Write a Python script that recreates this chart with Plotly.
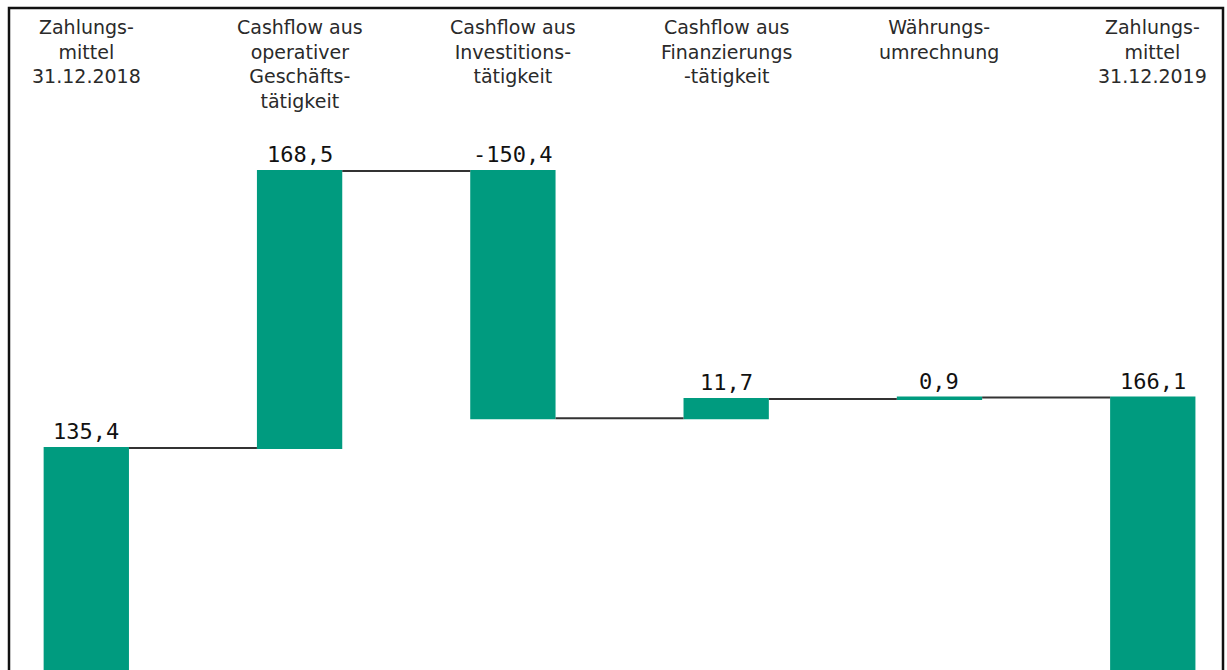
import numpy as np
import plotly.graph_objects as go

# ---- data ----
categories = [
    "Zahlungs-<br>mittel<br>31.12.2018",
    "Cashflow aus<br>operativer<br>Geschäfts-<br>tätigkeit",
    "Cashflow aus<br>Investitions-<br>tätigkeit",
    "Cashflow aus<br>Finanzierungs<br>-tätigkeit",
    "Währungs-<br>umrechnung",
    "Zahlungs-<br>mittel<br>31.12.2019",
]
values = [135.4, 168.5, -150.4, 11.7, 0.9, 166.1]
measures = ["absolute", "relative", "relative", "relative", "relative", "total"]
value_labels = ["135,4", "168,5", "-150,4", "11,7", "0,9", "166,1"]

# ---- style ----
TEAL = "#009b7f"
W, H = 1227, 670

# bar tops (for the value labels), derived from the data
tops = []
level = 0.0
for v, m in zip(values, measures):
    if m == "absolute":
        start, level = 0.0, v
    elif m == "relative":
        start, level = level, level + v
    else:
        start = 0.0
    tops.append(max(start, level))

fig = go.Figure()
fig.add_trace(go.Waterfall(
    x=categories,
    y=values,
    measure=measures,
    increasing=dict(marker=dict(color=TEAL, line=dict(width=0))),
    decreasing=dict(marker=dict(color=TEAL, line=dict(width=0))),
    totals=dict(marker=dict(color=TEAL, line=dict(width=0))),
    connector=dict(mode="between", line=dict(color="#333333", width=2)),
    hoverinfo="skip",
    showlegend=False,
))

annotations = []
for c in categories:
    annotations.append(dict(
        x=c, xref="x", y=1 - 14 / H, yref="paper",
        text=c, showarrow=False, yanchor="top", xanchor="center", align="center",
        font=dict(family="DejaVu Sans", size=19, color="#2a2a2a"),
    ))
for c, t, lab in zip(categories, tops, value_labels):
    annotations.append(dict(
        x=c, xref="x", y=t, yref="y",
        text=lab, showarrow=False, yanchor="bottom", xanchor="center",
        yshift=2,
        font=dict(family="DejaVu Sans Mono", size=22, color="#111111"),
    ))

fig.update_layout(
    width=W, height=H,
    margin=dict(l=0, r=0, t=0, b=0),
    paper_bgcolor="white", plot_bgcolor="white",
    waterfallgap=0.6,
    xaxis=dict(range=[-0.4046, 5.348], showticklabels=False, showgrid=False,
               zeroline=False, showline=False, ticks=""),
    yaxis=dict(range=[0.5, 407.8], visible=False, showgrid=False, zeroline=False),
    annotations=annotations,
    shapes=[dict(type="rect", xref="paper", yref="paper",
                 x0=9 / W, x1=1223 / W, y0=-0.05, y1=1 - 8 / H,
                 line=dict(color="#111111", width=2.5), fillcolor="rgba(0,0,0,0)")],
)

fig.write_html("out.html", config={"displayModeBar": False},
               post_script="document.body.style.margin='0';")
